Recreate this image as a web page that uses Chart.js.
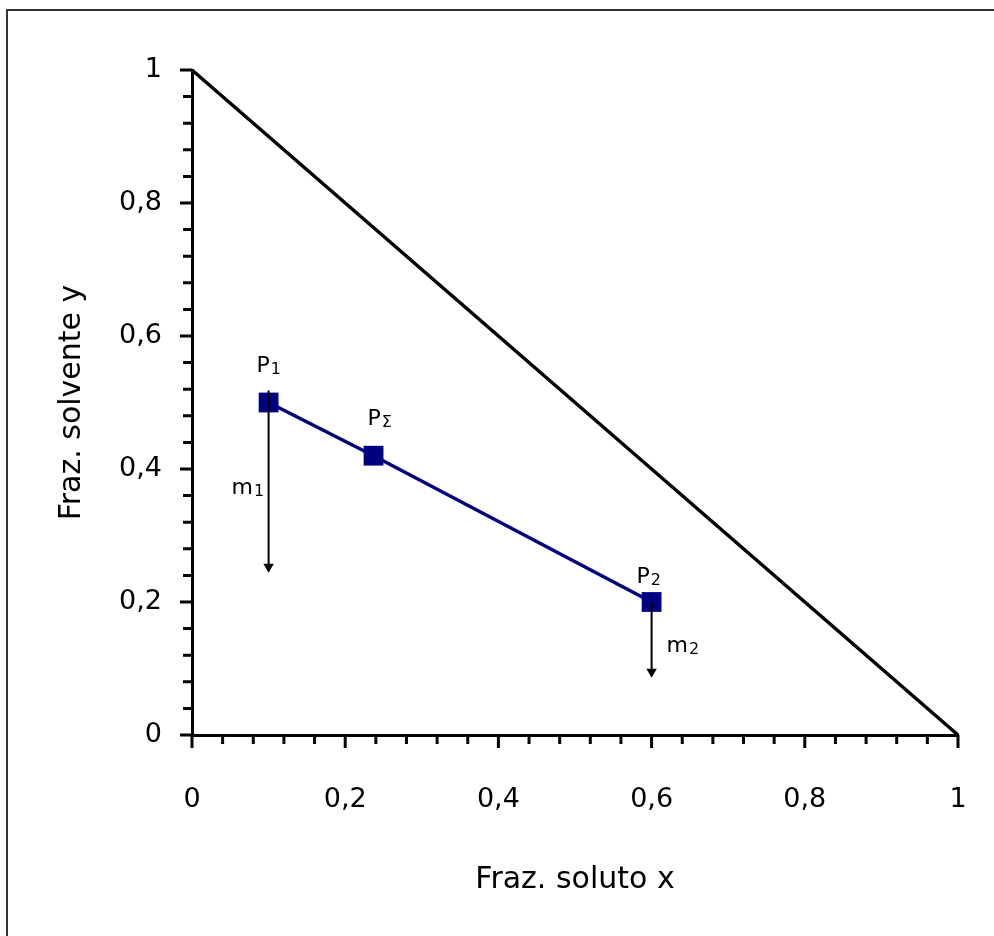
<!DOCTYPE html>
<html>
<head>
<meta charset="utf-8">
<script src="https://cdn.jsdelivr.net/npm/chart.js@4"></script>
<style>
  body { margin: 0; background: #fff; }
  canvas { display: block; }
</style>
</head>
<body>
<canvas id="chart" width="994" height="936"></canvas>
<script>
// tick labels (only every 0.2 gets a label, minor ticks every 0.04)
let majorValues = [0, 0.2, 0.4, 0.6, 0.8, 1];
let majorLabels = ['0', '0,2', '0,4', '0,6', '0,8', '1'];

// triangle border x + y = 1
let edgeX = [0, 1];
let edgeY = [1, 0];

// points P1, PΣ, P2
let pointNames = ['1', 'Σ', '2'];
let pointX = [0.1, 0.237, 0.6];
let pointY = [0.5, 0.42, 0.2];

// arrows m1 and m2 (start value, arrow head value)
let arrowX = [0.1, 0.6];
let arrowStartY = [0.518, 0.2];
let arrowEndY = [0.253, 0.095];
let arrowNames = ['1', '2'];

Chart.defaults.font.family = 'DejaVu Sans';
Chart.defaults.color = '#000';

function toPoints(xs, ys) {
	return xs.map((x, i) => ({x: x, y: ys[i]}));
}

function isMajor(v) {
	return majorValues.some(m => Math.abs(m - v) < 1e-6);
}

function labelFor(v) {
	let i = majorValues.findIndex(m => Math.abs(m - v) < 1e-6);
	return i >= 0 ? majorLabels[i] : '';
}

function minorTicks(scale) {
	let t = [];
	for (let i = 0; i <= 25; i++) t.push({value: Math.round(i * 4) / 100});
	scale.ticks = t;
}

let datasets = [];
for (let i = 0; i < arrowX.length; i++) {
	datasets.push({
		data: [{x: arrowX[i], y: arrowStartY[i]}, {x: arrowX[i], y: arrowEndY[i]}],
		showLine: true,
		borderColor: '#000',
		borderWidth: 2,
		pointRadius: [0, 6],
		pointStyle: 'triangle',
		rotation: 180,
		pointBackgroundColor: '#000',
		pointBorderColor: '#000',
		pointBorderWidth: 0,
		clip: false
	});
}
datasets.push({
	data: toPoints(pointX, pointY),
	showLine: true,
	borderColor: '#000080',
	borderWidth: 3.5,
	pointStyle: 'rect',
	pointRadius: 14,
	pointBackgroundColor: '#000080',
	pointBorderColor: '#000080',
	pointBorderWidth: 0,
	clip: false
});
datasets.push({
	data: toPoints(edgeX, edgeY),
	showLine: true,
	borderColor: '#000',
	borderWidth: 3.5,
	pointRadius: 0,
	clip: false
});

// frame, tick marks and the P / m labels
let extras = {
	id: 'extras',
	beforeDraw(chart) {
		let ctx = chart.ctx;
		ctx.save();
		ctx.fillStyle = '#fff';
		ctx.fillRect(0, 0, chart.width, chart.height);
		ctx.strokeStyle = '#333';
		ctx.lineWidth = 2;
		ctx.strokeRect(7, 10, chart.width + 20, chart.height + 20);
		ctx.restore();
	},
	afterDraw(chart) {
		let ctx = chart.ctx;
		let xs = chart.scales.x, ys = chart.scales.y;
		let area = chart.chartArea;
		ctx.save();
		ctx.strokeStyle = '#000';
		ctx.lineWidth = 3;
		ctx.beginPath();
		xs.ticks.forEach(t => {
			let px = xs.getPixelForValue(t.value);
			ctx.moveTo(px, area.bottom);
			ctx.lineTo(px, area.bottom + (isMajor(t.value) ? 13 : 9));
		});
		ys.ticks.forEach(t => {
			let py = ys.getPixelForValue(t.value);
			ctx.moveTo(area.left, py);
			ctx.lineTo(area.left - (isMajor(t.value) ? 12 : 9), py);
		});
		ctx.stroke();

		ctx.fillStyle = '#000';
		ctx.textBaseline = 'alphabetic';
		function sublabel(main, sub, x, y) {
			ctx.font = '22px DejaVu Sans';
			ctx.fillText(main, x, y);
			let w = ctx.measureText(main).width;
			ctx.font = '16px DejaVu Sans';
			ctx.fillText(sub, x + w + 1, y + 2);
		}
		let offs = [[-12, -31], [-6, -31], [-15, -19]];
		pointX.forEach((v, i) => {
			let px = xs.getPixelForValue(v), py = ys.getPixelForValue(pointY[i]);
			sublabel('P', pointNames[i], px + offs[i][0], py + offs[i][1]);
		});
		let moffs = [[-37, 103], [15, 50]];
		arrowX.forEach((v, i) => {
			let px = xs.getPixelForValue(v), py = ys.getPixelForValue(arrowStartY[i]);
			sublabel('m', arrowNames[i], px + moffs[i][0], py + moffs[i][1]);
		});
		ctx.restore();
	}
};

let chart = new Chart(document.getElementById('chart').getContext('2d'), {
	type: 'scatter',
	data: {datasets: datasets},
	plugins: [extras],
	options: {
		responsive: false,
		animation: false,
		events: [],
		layout: {padding: {left: 0, top: 70, right: 36, bottom: 0}},
		plugins: {legend: {display: false}, tooltip: {enabled: false}},
		scales: {
			x: {
				type: 'linear',
				min: 0,
				max: 1,
				afterBuildTicks: minorTicks,
				afterFit(scale) { scale.height = 201; scale.paddingLeft = 0; scale.paddingRight = 0; },
				grid: {display: true, drawOnChartArea: false, drawTicks: true, tickLength: 13, color: 'rgba(0,0,0,0)'},
				border: {display: true, color: '#000', width: 3},
				ticks: {autoSkip: false, maxRotation: 0, padding: 36, font: {size: 27}, callback: v => labelFor(v)},
				title: {display: true, text: 'Fraz. soluto x', font: {size: 30}, padding: {top: 0, bottom: 38}}
			},
			y: {
				type: 'linear',
				min: 0,
				max: 1,
				afterBuildTicks: minorTicks,
				afterFit(scale) { scale.width = 192; scale.paddingTop = 0; scale.paddingBottom = 0; },
				grid: {display: true, drawOnChartArea: false, drawTicks: true, tickLength: 12, color: 'rgba(0,0,0,0)'},
				border: {display: true, color: '#000', width: 3},
				ticks: {autoSkip: false, padding: 18, font: {size: 27}, callback: v => labelFor(v)},
				title: {display: true, text: 'Fraz. solvente y', font: {size: 30}, padding: {top: 54, bottom: 0}}
			}
		}
	}
});
</script>
</body>
</html>
